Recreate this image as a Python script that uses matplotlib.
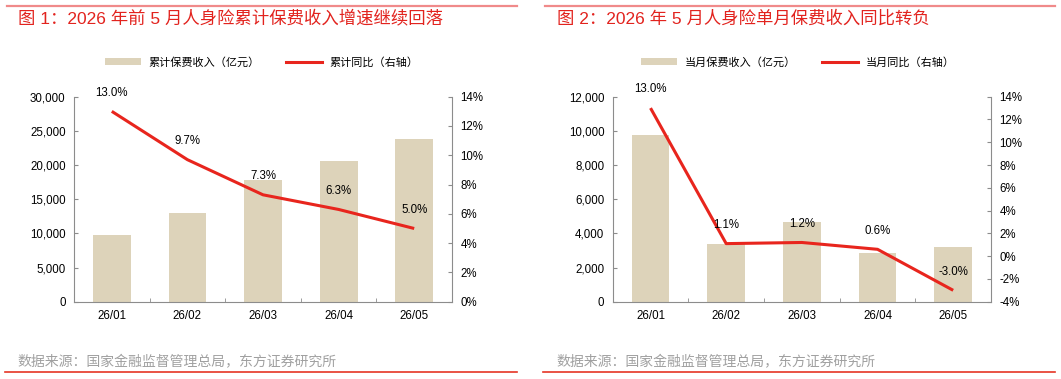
import matplotlib
matplotlib.use("Agg")
import matplotlib.pyplot as plt
from matplotlib.lines import Line2D
from matplotlib.patches import Patch
from matplotlib.ticker import FuncFormatter, FixedLocator

months = ["26/01", "26/02", "26/03", "26/04", "26/05"]
cum_premium = [9750, 13050, 17750, 20650, 23850]
cum_yoy = [13.0, 9.7, 7.3, 6.3, 5.0]
mon_premium = [9750, 3350, 4650, 2880, 3220]
mon_yoy = [13.0, 1.1, 1.2, 0.6, -3.0]

title1 = "图 1：2026 年前 5 月人身险累计保费收入增速继续回落"
title2 = "图 2：2026 年 5 月人身险单月保费收入同比转负"
source = "数据来源：国家金融监督管理总局，东方证券研究所"

BAR = "#DDD3BA"
RED = "#E8251D"
GRAY = "#8C8C8C"
FONT = ["Liberation Sans", "Noto Sans CJK SC", "DejaVu Sans"]
plt.rcParams["font.family"] = FONT

W, H = 1061, 379
fig = plt.figure(figsize=(W / 100, H / 100), dpi=100)


def fx(px):
    return px / W


def fy(py):
    return 1 - py / H


def panel(x0, x1, bars, yoy, ylim, yticks, rlim, rticks, bar_lab, line_lab, leg_cx):
    ax = fig.add_axes([fx(x0), fy(301.7), fx(x1) - fx(x0), fy(96.7) - fy(301.7)])
    idx = range(len(months))
    ax.bar(idx, bars, width=0.5, color=BAR, zorder=1)
    ax.set_xlim(-0.5, len(months) - 0.5)
    ax.set_ylim(*ylim)
    ax.set_yticks(yticks)
    ax.yaxis.set_major_formatter(FuncFormatter(lambda v, p: f"{v:,.0f}"))
    ax.set_xticks(list(idx))
    ax.set_xticklabels(months)
    ax.xaxis.set_minor_locator(FixedLocator([i + 0.5 for i in range(-1, len(months))]))
    ax.tick_params(axis="x", which="major", length=0, pad=6, labelsize=8.3)
    ax.tick_params(axis="x", which="minor", direction="in", length=3, color=GRAY)
    ax.tick_params(axis="y", direction="in", length=3, color=GRAY, labelsize=8.3, pad=6)
    for s in ("top", "right"):
        ax.spines[s].set_visible(False)
    for s in ("left", "bottom"):
        ax.spines[s].set_color(GRAY)

    ax2 = ax.twinx()
    ax2.plot(list(idx), yoy, color=RED, lw=2.2, solid_capstyle="butt", zorder=3)
    ax2.set_ylim(*rlim)
    ax2.set_yticks(rticks)
    ax2.yaxis.set_major_formatter(FuncFormatter(lambda v, p: f"{v:.0f}%"))
    ax2.tick_params(axis="y", direction="in", length=3, color=GRAY, labelsize=8.3, pad=6)
    for s in ("top", "left", "bottom"):
        ax2.spines[s].set_visible(False)
    ax2.spines["right"].set_color(GRAY)
    for i, v in zip(idx, yoy):
        ax2.annotate(f"{v:.1f}%", (i, v), xytext=(0, 13.5), textcoords="offset points",
                     ha="center", va="center", fontsize=8.3)

    handles = [Patch(facecolor=BAR, edgecolor="none"), Line2D([], [], color=RED, lw=2.2)]
    fig.legend(handles, [bar_lab, line_lab], loc="center", bbox_to_anchor=(fx(leg_cx), fy(62)),
               ncol=2, frameon=False, fontsize=8, handlelength=3.2, handleheight=0.55,
               handletextpad=0.7, columnspacing=2.4)


panel(74, 452, cum_premium, cum_yoy, (0, 30000), range(0, 30001, 5000),
      (0, 14), range(0, 15, 2), "累计保费收入（亿元）", "累计同比（右轴）", 262)
panel(612.7, 991, mon_premium, mon_yoy, (0, 12000), range(0, 12001, 2000),
      (-4, 14), range(-4, 15, 2), "当月保费收入（亿元）", "当月同比（右轴）", 798)

# header lines, titles, footer
fig.add_artist(Line2D([fx(7), fx(517)], [fy(5.5), fy(5.5)], color="#F08A8A", lw=1.6))
fig.add_artist(Line2D([fx(545), fx(1055)], [fy(5.5), fy(5.5)], color="#F08A8A", lw=1.6))
fig.text(fx(18), fy(18), title1, color="#E2231E", fontsize=12.5, va="center", ha="left")
fig.text(fx(557), fy(18), title2, color="#E2231E", fontsize=12.5, va="center", ha="left")
fig.text(fx(17), fy(362.5), source, color="#A0A0A0", fontsize=10, va="center", ha="left")
fig.text(fx(556), fy(362.5), source, color="#A0A0A0", fontsize=10, va="center", ha="left")
fig.add_artist(Line2D([fx(5), fx(517)], [fy(372), fy(372)], color="#E53525", lw=1.2))
fig.add_artist(Line2D([fx(543), fx(1055)], [fy(372), fy(372)], color="#E53525", lw=1.2))

fig.savefig("out.png", dpi=100)
